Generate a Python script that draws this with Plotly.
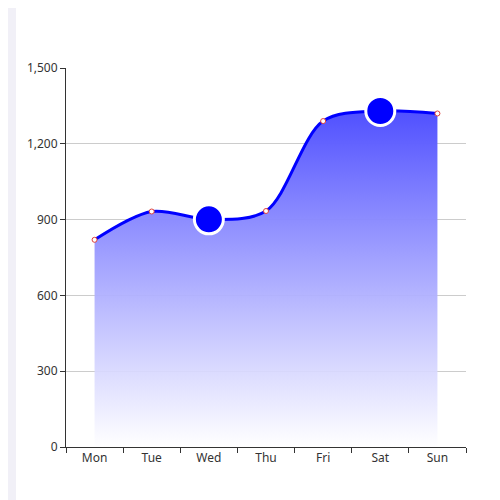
import plotly.graph_objects as go

days = ["Mon", "Tue", "Wed", "Thu", "Fri", "Sat", "Sun"]
values = [820, 932, 901, 934, 1290, 1330, 1320]
big_days = ["Wed", "Sat"]
big_values = [901, 1330]

fig = go.Figure()
fig.add_trace(go.Scatter(
    x=days, y=values, mode="lines+markers",
    line=dict(color="#0000ff", width=3, shape="spline", smoothing=0.9),
    marker=dict(size=5, color="white", line=dict(color="#e0403a", width=1)),
    fill="tozeroy",
    fillgradient=dict(type="vertical",
                      colorscale=[[0, "rgba(255,255,255,0.9)"], [1, "rgba(80,80,255,1)"]]),
    hoverinfo="skip",
))
fig.add_trace(go.Scatter(
    x=big_days, y=big_values, mode="markers",
    marker=dict(size=29, color="#0000ff", line=dict(color="white", width=3)),
    hoverinfo="skip",
))
fig.update_layout(
    width=500, height=500, showlegend=False,
    paper_bgcolor="white", plot_bgcolor="white",
    margin=dict(l=58, r=42, t=60, b=61),
    font=dict(family="Noto Sans, sans-serif", size=12, color="#333"),
    shapes=[dict(type="rect", xref="paper", yref="paper", x0=-58/400, x1=-50/400,
                 y0=-61/379, y1=1 + 60/379, fillcolor="#f1f0f7", line_width=0, layer="below")],
)
fig.update_xaxes(type="category", range=[-0.5, 6.5], showline=True, linecolor="#333",
                 ticks="outside", tickson="boundaries", ticklen=5, tickcolor="#333",
                 showgrid=False, zeroline=False)
fig.update_yaxes(range=[0, 1500], tickvals=[0, 300, 600, 900, 1200, 1500], tickformat=",",
                 showline=True, linecolor="#333", ticks="outside", ticklen=5, tickcolor="#333",
                 gridcolor="#ccc", zeroline=False)
fig.write_html("out.html")
